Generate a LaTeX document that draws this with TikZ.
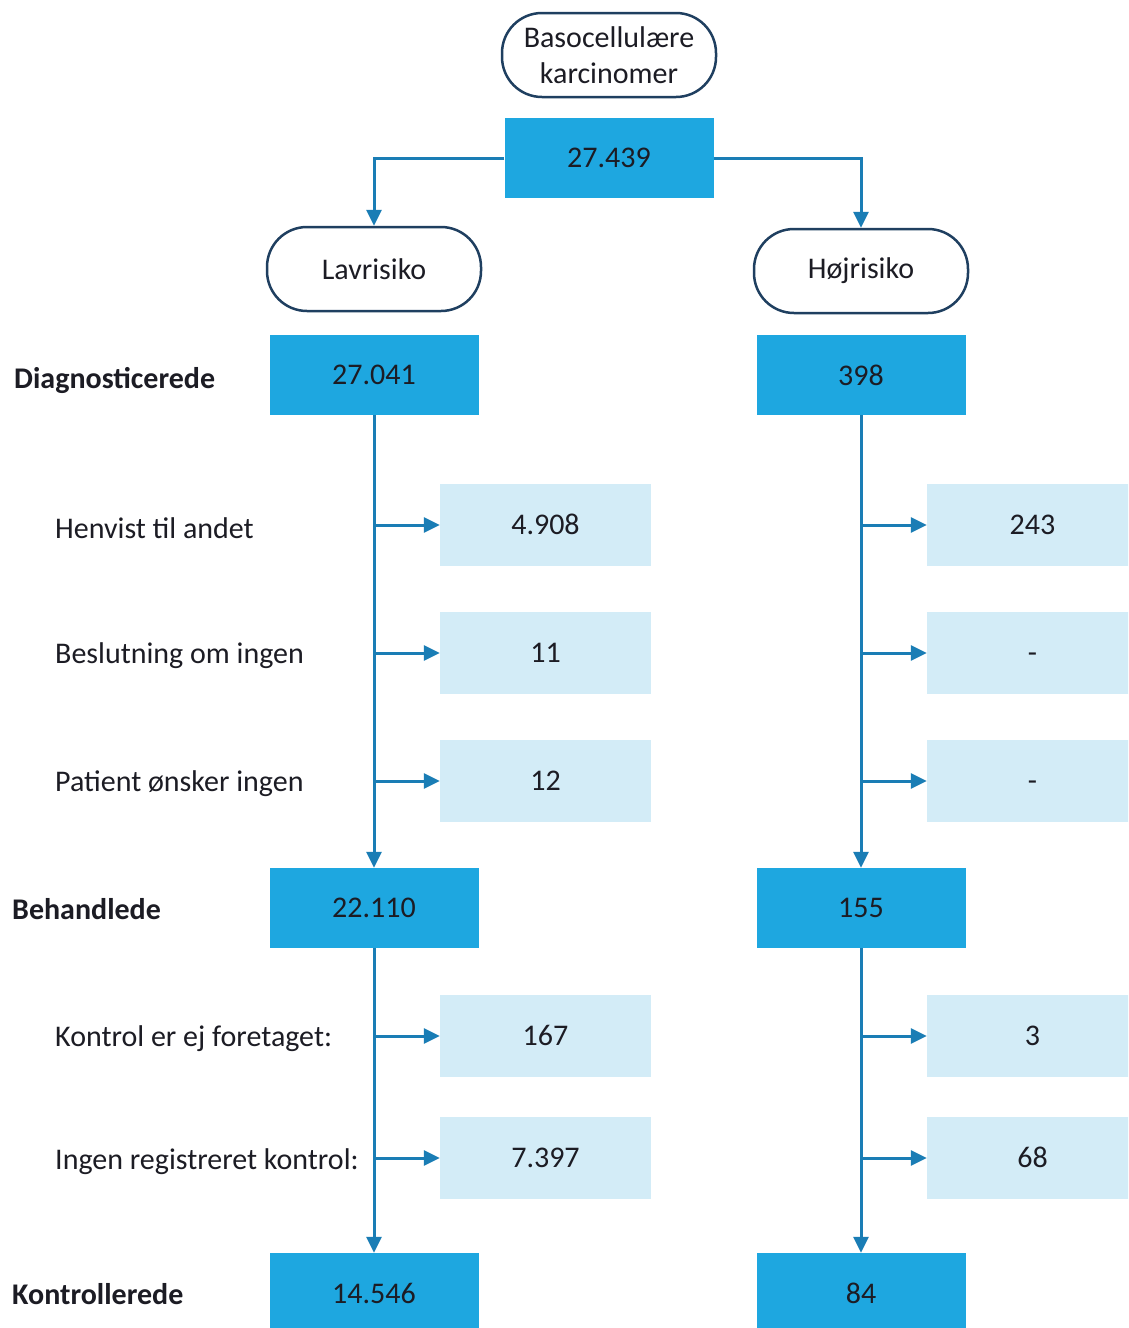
\documentclass[tikz,border=0pt]{standalone}
\usepackage{fontspec}
\setmainfont{Carlito}
\usetikzlibrary{arrows.meta}
\definecolor{darkfill}{HTML}{1EA7E0}
\definecolor{lightfill}{HTML}{D3ECF7}
\definecolor{conncol}{HTML}{1A7DB5}
\definecolor{ink}{HTML}{1C1C24}
\definecolor{rim}{HTML}{1F3F60}
\begin{document}
\begin{tikzpicture}[x=1pt,y=-1pt,
 every node/.style={font=\fontsize{30}{36}\selectfont, text=ink},
 darkbox/.style={fill=darkfill, minimum width=209pt, minimum height=80pt, inner sep=0pt},
 lightbox/.style={fill=lightfill, minimum width=211pt, minimum height=82pt, inner sep=0pt, text height=19pt, text depth=0pt},
 pill/.style={draw=rim, line width=2.5pt, rounded corners=40pt, minimum width=214pt, minimum height=84pt, fill=white, align=center, inner sep=2pt},
 conn/.style={draw=conncol, line width=3pt, -{Triangle[length=16pt,width=15pt]}},
 lab/.style={anchor=west, inner sep=0pt},
 blab/.style={anchor=west, inner sep=0pt, font=\fontsize{30}{36}\selectfont\bfseries}]
\useasboundingbox (0,0) rectangle (1128,1328);
\clip (0,0) rectangle (1128,1328);
\fill[white] (0,0) rectangle (1128,1328);

% top
\node[pill] (bcc) at (609,55) {Basocellulære\\karcinomer};
\node[darkbox] (tot) at (609,158) {27.439};
\node[pill] (lav) at (374,269) {Lavrisiko};
\node[pill] (hoj) at (861,271) {Højrisiko};
\draw[conn] (tot.west) -| (lav.north);
\draw[conn] (tot.east) -| (hoj.north);

% Diagnosticerede
\node[blab] (ldiag) at (14,380) {Diagnosticerede};
\node[darkbox] (ld) at (374,375) {27.041};
\node[darkbox] (rd) at (861,375) {398};

% exclusions 1
\node[lab] (lh) at (55,528) {Henvist til andet};
\node[lab] (lbes) at (55,656) {Beslutning om ingen};
\node[lab] (lpat) at (55,784) {Patient ønsker ingen};
\node[lightbox] (l1) at (545.5,525) {4.908};
\node[lightbox] (l2) at (545.5,653) {11};
\node[lightbox] (l3) at (545.5,781) {12};
\node[lightbox] (r1) at (1032.5,525) {243};
\node[lightbox] (r2) at (1032.5,653) {-};
\node[lightbox] (r3) at (1032.5,781) {-};

% Behandlede
\node[blab] (lbeh) at (12,909) {Behandlede};
\node[darkbox] (lb) at (374,908) {22.110};
\node[darkbox] (rb) at (861,908) {155};

\draw[conn] (ld.south) -- (lb.north);
\draw[conn] (rd.south) -- (rb.north);
\foreach \n in {l1,l2,l3} \draw[conn] (ld.south |- \n.west) -- (\n.west);
\foreach \n in {r1,r2,r3} \draw[conn] (rd.south |- \n.west) -- (\n.west);

% exclusions 2
\node[lab] (lkon) at (55,1039) {Kontrol er ej foretaget:};
\node[lab] (ling) at (55,1162) {Ingen registreret kontrol:};
\node[lightbox] (l4) at (545.5,1036) {167};
\node[lightbox] (l5) at (545.5,1158) {7.397};
\node[lightbox] (r4) at (1032.5,1036) {3};
\node[lightbox] (r5) at (1032.5,1158) {68};

% Kontrollerede
\node[blab] (lktr) at (12,1294) {Kontrollerede};
\node[darkbox] (lk) at (374,1293) {14.546};
\node[darkbox] (rk) at (861,1293) {84};

\draw[conn] (lb.south) -- (lk.north);
\draw[conn] (rb.south) -- (rk.north);
\foreach \n in {l4,l5} \draw[conn] (lb.south |- \n.west) -- (\n.west);
\foreach \n in {r4,r5} \draw[conn] (rb.south |- \n.west) -- (\n.west);
\end{tikzpicture}
\end{document}
